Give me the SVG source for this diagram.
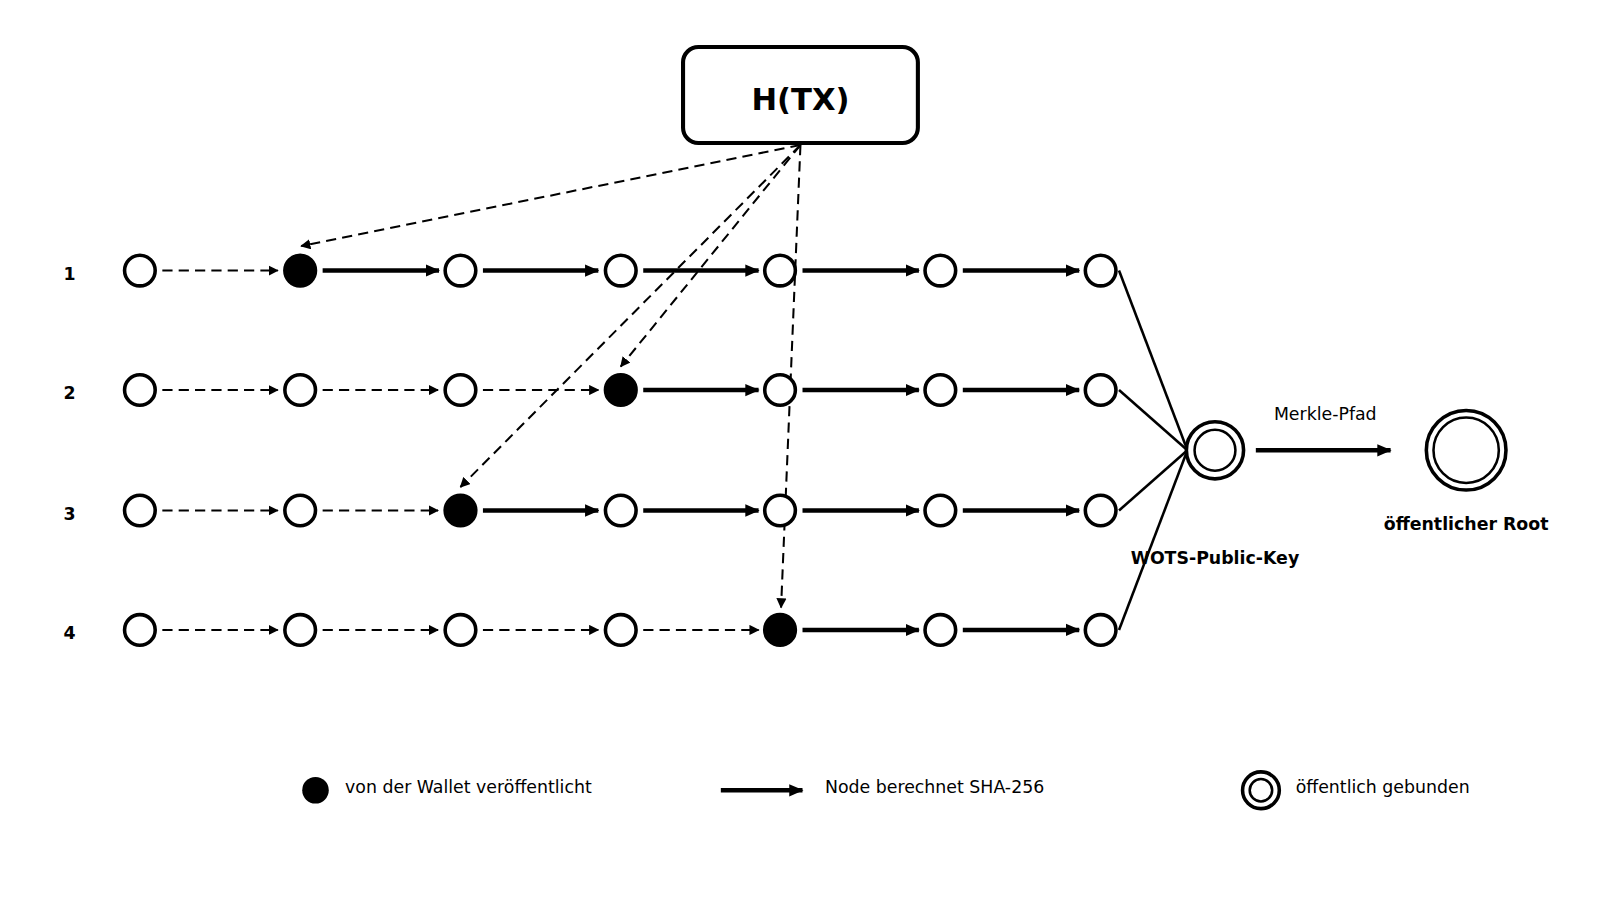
<svg xmlns="http://www.w3.org/2000/svg" width="1600" height="900" viewBox="0 0 1600 900">
<style>
text{font-family:"DejaVu Sans",sans-serif;fill:#000}
.n{fill:#fff;stroke:#000;stroke-width:3.5}
.f{fill:#000;stroke:#000;stroke-width:3.5}
.d{stroke:#000;stroke-width:2;stroke-dasharray:10,6;fill:none}
.s{stroke:#000;stroke-width:4.5;fill:none}
.l{stroke:#000;stroke-width:2.5;fill:none}
.lb{font-size:17px;font-weight:bold}
.t{font-size:17px}
</style>
<defs>
<marker id="ad" markerWidth="10" markerHeight="10" refX="9" refY="5" orient="auto" markerUnits="userSpaceOnUse"><path d="M0,0L10,5L0,10z"/></marker>
<marker id="as" markerWidth="14" markerHeight="14" refX="13" refY="7" orient="auto" markerUnits="userSpaceOnUse"><path d="M0,1L14,7L0,13z"/></marker>
</defs>
<g transform="scale(1.021)">
<g id="connectors">
<g id="chains">
<line class="d" x1="159" y1="265" x2="272" y2="265" marker-end="url(#ad)"/>
<line class="s" x1="316" y1="265" x2="430" y2="265" marker-end="url(#as)"/>
<line class="s" x1="473" y1="265" x2="586" y2="265" marker-end="url(#as)"/>
<line class="s" x1="630" y1="265" x2="743" y2="265" marker-end="url(#as)"/>
<line class="s" x1="786" y1="265" x2="900" y2="265" marker-end="url(#as)"/>
<line class="s" x1="943" y1="265" x2="1057" y2="265" marker-end="url(#as)"/>
<line class="d" x1="159" y1="382" x2="272" y2="382" marker-end="url(#ad)"/>
<line class="d" x1="316" y1="382" x2="429" y2="382" marker-end="url(#ad)"/>
<line class="d" x1="473" y1="382" x2="586" y2="382" marker-end="url(#ad)"/>
<line class="s" x1="630" y1="382" x2="743" y2="382" marker-end="url(#as)"/>
<line class="s" x1="786" y1="382" x2="900" y2="382" marker-end="url(#as)"/>
<line class="s" x1="943" y1="382" x2="1057" y2="382" marker-end="url(#as)"/>
<line class="d" x1="159" y1="500" x2="272" y2="500" marker-end="url(#ad)"/>
<line class="d" x1="316" y1="500" x2="429" y2="500" marker-end="url(#ad)"/>
<line class="s" x1="473" y1="500" x2="586" y2="500" marker-end="url(#as)"/>
<line class="s" x1="630" y1="500" x2="743" y2="500" marker-end="url(#as)"/>
<line class="s" x1="786" y1="500" x2="900" y2="500" marker-end="url(#as)"/>
<line class="s" x1="943" y1="500" x2="1057" y2="500" marker-end="url(#as)"/>
<line class="d" x1="159" y1="617" x2="272" y2="617" marker-end="url(#ad)"/>
<line class="d" x1="316" y1="617" x2="429" y2="617" marker-end="url(#ad)"/>
<line class="d" x1="473" y1="617" x2="586" y2="617" marker-end="url(#ad)"/>
<line class="d" x1="630" y1="617" x2="743" y2="617" marker-end="url(#ad)"/>
<line class="s" x1="786" y1="617" x2="900" y2="617" marker-end="url(#as)"/>
<line class="s" x1="943" y1="617" x2="1057" y2="617" marker-end="url(#as)"/>
</g>
<g id="htx-links">
<line class="d" x1="784" y1="142" x2="295" y2="241" marker-end="url(#ad)"/>
<line class="d" x1="784" y1="142" x2="608" y2="359" marker-end="url(#ad)"/>
<line class="d" x1="784" y1="142" x2="451" y2="477" marker-end="url(#ad)"/>
<line class="d" x1="784" y1="142" x2="765" y2="595" marker-end="url(#ad)"/>
</g>
<g id="pk-links">
<line class="l" x1="1096" y1="265" x2="1163" y2="441"/>
<line class="l" x1="1096" y1="382" x2="1163" y2="441"/>
<line class="l" x1="1096" y1="500" x2="1163" y2="441"/>
<line class="l" x1="1096" y1="617" x2="1163" y2="441"/>
</g>
<line class="s" x1="1230" y1="441" x2="1362" y2="441" marker-end="url(#as)"/>
<text x="1298" y="411" text-anchor="middle" class="t">Merkle-Pfad</text>
</g>
<g id="htx">
<rect x="669" y="46" width="230" height="94" rx="15" fill="#fff" stroke="#000" stroke-width="4"/>
<text x="784" y="108" text-anchor="middle" font-size="30" font-weight="bold">H(TX)</text>
</g>
<g id="row-labels">
<text x="68" y="274" text-anchor="middle" class="lb">1</text>
<text x="68" y="391" text-anchor="middle" class="lb">2</text>
<text x="68" y="509" text-anchor="middle" class="lb">3</text>
<text x="68" y="626" text-anchor="middle" class="lb">4</text>
</g>
<g id="nodes">
<g id="r1"><circle class="n" cx="137" cy="265" r="15"/><circle class="f" cx="294" cy="265" r="15"/><circle class="n" cx="451" cy="265" r="15"/><circle class="n" cx="608" cy="265" r="15"/><circle class="n" cx="764" cy="265" r="15"/><circle class="n" cx="921" cy="265" r="15"/><circle class="n" cx="1078" cy="265" r="15"/></g>
<g id="r2"><circle class="n" cx="137" cy="382" r="15"/><circle class="n" cx="294" cy="382" r="15"/><circle class="n" cx="451" cy="382" r="15"/><circle class="f" cx="608" cy="382" r="15"/><circle class="n" cx="764" cy="382" r="15"/><circle class="n" cx="921" cy="382" r="15"/><circle class="n" cx="1078" cy="382" r="15"/></g>
<g id="r3"><circle class="n" cx="137" cy="500" r="15"/><circle class="n" cx="294" cy="500" r="15"/><circle class="f" cx="451" cy="500" r="15"/><circle class="n" cx="608" cy="500" r="15"/><circle class="n" cx="764" cy="500" r="15"/><circle class="n" cx="921" cy="500" r="15"/><circle class="n" cx="1078" cy="500" r="15"/></g>
<g id="r4"><circle class="n" cx="137" cy="617" r="15"/><circle class="n" cx="294" cy="617" r="15"/><circle class="n" cx="451" cy="617" r="15"/><circle class="n" cx="608" cy="617" r="15"/><circle class="f" cx="764" cy="617" r="15"/><circle class="n" cx="921" cy="617" r="15"/><circle class="n" cx="1078" cy="617" r="15"/></g>
</g>
<g id="pk">
<circle cx="1190" cy="441" r="28" fill="#fff" stroke="#000" stroke-width="3.5"/>
<circle cx="1190" cy="441" r="20" fill="none" stroke="#000" stroke-width="2.5"/>
<text x="1190" y="552" text-anchor="middle" class="lb" font-size="18">WOTS-Public-Key</text>
</g>
<g id="root">
<circle cx="1436" cy="441" r="39" fill="#fff" stroke="#000" stroke-width="3.5"/>
<circle cx="1436" cy="441" r="32" fill="none" stroke="#000" stroke-width="2.5"/>
<text x="1436" y="519" text-anchor="middle" class="lb" font-size="18">öffentlicher Root</text>
</g>
<g id="legend">
<circle cx="309" cy="774" r="13" fill="#000"/>
<text x="338" y="777" class="t">von der Wallet veröffentlicht</text>
<line class="s" x1="706" y1="774" x2="786" y2="774" marker-end="url(#as)"/>
<text x="808" y="777" class="t">Node berechnet SHA-256</text>
<circle cx="1235" cy="774" r="18" fill="#fff" stroke="#000" stroke-width="3.5"/>
<circle cx="1235" cy="774" r="11" fill="none" stroke="#000" stroke-width="2.5"/>
<text x="1269" y="777" class="t">öffentlich gebunden</text>
</g>
</g>
</svg>
